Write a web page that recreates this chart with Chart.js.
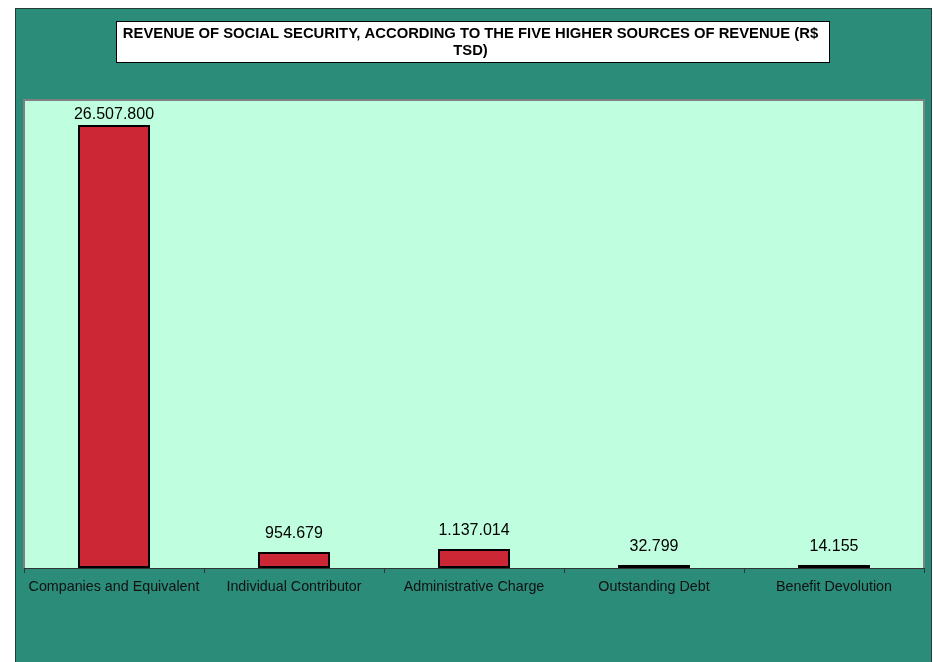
<!DOCTYPE html>
<html>
<head>
<meta charset="utf-8">
<script src="https://cdn.jsdelivr.net/npm/chart.js@4.4.1/dist/chart.umd.min.js"></script>
<style>
  html, body { margin: 0; padding: 0; background: #fff; }
  #wrap { position: relative; width: 933px; height: 662px; }
</style>
</head>
<body>
<div id="wrap"><canvas id="revenue-chart" width="933" height="662"></canvas></div>
<script>
// ---- data ----
const titleLines = ['REVENUE OF SOCIAL SECURITY, ACCORDING TO THE FIVE HIGHER SOURCES OF REVENUE (R$', 'TSD)'];
const categories = ['Companies and Equivalent', 'Individual Contributor', 'Administrative Charge', 'Outstanding Debt', 'Benefit Devolution'];
const revenue = [26507800, 954679, 1137014, 32799, 14155];
const yMax = 28000000;

const FONT = '"Liberation Sans", Arial, sans-serif';

// 26507800 -> 26.507.800
function fmt(v) {
    return String(v).replace(/\B(?=(\d{3})+(?!\d))/g, '.');
}

// frame, title box, plot background, value labels
const framePlugin = {
    id: 'frame',
    beforeDraw(chart) {
        const c = chart.ctx;
        const a = chart.chartArea;
        c.save();
        c.fillStyle = '#ffffff';
        c.fillRect(0, 0, chart.width, chart.height);
        // outer green area
        c.fillStyle = '#2b8c79';
        c.fillRect(15, 8, 917, 660);
        c.strokeStyle = '#1f3d36';
        c.lineWidth = 1;
        c.strokeRect(15.5, 8.5, 916, 660);
        // title box
        c.fillStyle = '#ffffff';
        c.fillRect(116, 21, 713, 41);
        c.strokeStyle = '#000';
        c.strokeRect(116.5, 21.5, 713, 41);
        c.fillStyle = '#000';
        c.font = 'bold 14.8px ' + FONT;
        c.textAlign = 'center';
        c.textBaseline = 'middle';
        titleLines.forEach((t, i) => c.fillText(t, 470.5, 34 + i * 17));
        // plot area
        c.fillStyle = '#bfffdf';
        c.fillRect(a.left, a.top, a.right - a.left, a.bottom - a.top);
        c.strokeStyle = '#808080';
        c.lineWidth = 2;
        c.beginPath();
        c.moveTo(a.left, a.bottom);
        c.lineTo(a.left, a.top);
        c.lineTo(a.right, a.top);
        c.lineTo(a.right, a.bottom);
        c.stroke();
        c.restore();
    },
    afterDatasetsDraw(chart) {
        const c = chart.ctx;
        const meta = chart.getDatasetMeta(0);
        c.save();
        c.fillStyle = '#000';
        c.font = '16px ' + FONT;
        c.textAlign = 'center';
        c.textBaseline = 'alphabetic';
        meta.data.forEach((bar, i) => {
            const y = Math.max(bar.y - 14, chart.chartArea.top + 19);
            c.fillText(fmt(revenue[i]), bar.x, y);
        });
        c.restore();
    }
};

new Chart(document.getElementById('revenue-chart'), {
    type: 'bar',
    data: {
        labels: categories,
        datasets: [{
            data: revenue,
            backgroundColor: '#cc2734',
            borderColor: '#000000',
            borderWidth: 2,
            borderSkipped: false,
            minBarLength: 3,
            categoryPercentage: 1,
            barPercentage: 0.4
        }]
    },
    options: {
        responsive: false,
        animation: false,
        devicePixelRatio: 1,
        layout: { padding: { left: 24, top: 100, right: 9, bottom: 0 } },
        plugins: { legend: { display: false }, title: { display: false }, tooltip: { enabled: false } },
        scales: {
            y: { display: false, min: 0, max: yMax },
            x: {
                afterFit(scale) { scale.height = 94; },
                grid: { drawOnChartArea: false, drawTicks: true, tickLength: 5, color: '#333', offset: true },
                border: { display: true, color: '#333', width: 1 },
                ticks: { color: '#111', font: { family: FONT, size: 14.3 }, padding: 5, maxRotation: 0, autoSkip: false }
            }
        }
    },
    plugins: [framePlugin]
});
</script>
</body>
</html>
